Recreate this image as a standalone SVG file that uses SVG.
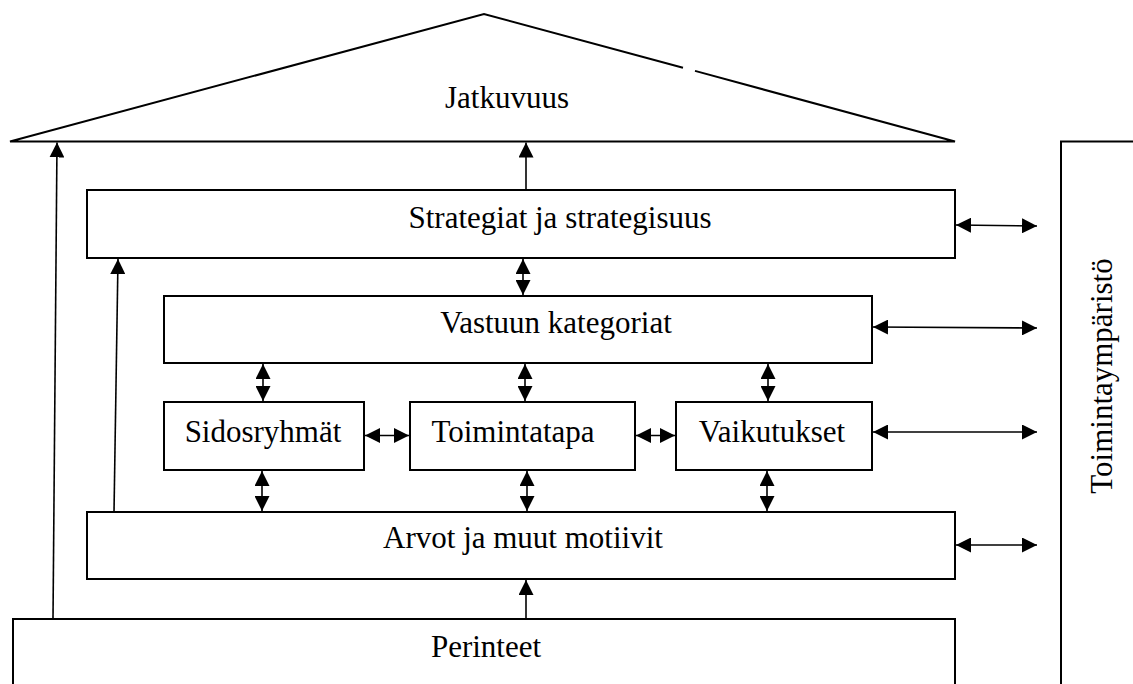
<svg xmlns="http://www.w3.org/2000/svg" width="1133" height="684" viewBox="0 0 1133 684">
  <style>
    .box { fill: #ffffff; stroke: #000000; stroke-width: 2; }
    .roof { fill: none; stroke: #000000; stroke-width: 2; stroke-linejoin: miter; }
    .lbl { font-family: "Liberation Serif", "Times New Roman", serif; font-size: 31px; fill: #000000; text-anchor: middle; }
    .link { fill: none; stroke: #000000; stroke-width: 1.6; }
    .one { marker-end: url(#head); }
    .two { marker-start: url(#head); marker-end: url(#head); }
  </style>
  <defs>
    <marker id="head" markerUnits="userSpaceOnUse" markerWidth="15" markerHeight="15" refX="15" refY="7.5" orient="auto-start-reverse">
      <path d="M0,0 L15,7.5 L0,15 Z" fill="#000000"/>
    </marker>
  </defs>
  <rect width="1133" height="684" fill="#ffffff"/>

  <!-- roof -->
  <g id="roof">
    <path class="roof" d="M683,67.7 L484,14 L10,141.5 L955,141.5 L695,70.9"/>
    <text class="lbl" x="507" y="108">Jatkuvuus</text>
  </g>

  <!-- operating environment column -->
  <g id="environment">
    <path class="box" d="M1061,690 L1061,141.5 L1140,141.5"/>
    <text class="lbl" transform="translate(1112,376) rotate(-90)">Toimintaympäristö</text>
  </g>

  <g id="strategies">
    <rect class="box" x="87" y="190" width="868" height="68"/>
    <text class="lbl" x="560" y="228">Strategiat ja strategisuus</text>
  </g>

  <g id="categories">
    <rect class="box" x="164" y="296" width="708" height="67"/>
    <text class="lbl" x="556" y="333">Vastuun kategoriat</text>
  </g>

  <g id="stakeholders">
    <rect class="box" x="164" y="402" width="200" height="68"/>
    <text class="lbl" x="263" y="442">Sidosryhmät</text>
  </g>

  <g id="practice">
    <rect class="box" x="410" y="402" width="225" height="68"/>
    <text class="lbl" x="513" y="442">Toimintatapa</text>
  </g>

  <g id="impacts">
    <rect class="box" x="676" y="402" width="196" height="68"/>
    <text class="lbl" x="772" y="442">Vaikutukset</text>
  </g>

  <g id="values">
    <rect class="box" x="87" y="512" width="868" height="67"/>
    <text class="lbl" x="523" y="548">Arvot ja muut motiivit</text>
  </g>

  <g id="traditions">
    <path class="box" d="M13,690 L13,619 L955,619 L955,690"/>
    <text class="lbl" x="486" y="657">Perinteet</text>
  </g>

  <!-- connectors -->
  <g id="connectors">
    <!-- single arrows upward -->
    <line class="link one" x1="53" y1="619" x2="57" y2="142.5"/>
    <line class="link one" x1="114" y1="512" x2="118" y2="259"/>
    <line class="link one" x1="526" y1="190" x2="526" y2="142.5"/>
    <line class="link one" x1="526" y1="619" x2="526" y2="580"/>

    <!-- vertical double arrows -->
    <line class="link two" x1="523" y1="259" x2="523" y2="295"/>
    <line class="link two" x1="263" y1="364" x2="263" y2="401"/>
    <line class="link two" x1="525" y1="364" x2="525" y2="401"/>
    <line class="link two" x1="768" y1="364" x2="768" y2="401"/>
    <line class="link two" x1="262" y1="471" x2="262" y2="511"/>
    <line class="link two" x1="527" y1="471" x2="527" y2="511"/>
    <line class="link two" x1="767" y1="471" x2="767" y2="511"/>

    <!-- horizontal double arrows within the middle row -->
    <line class="link two" x1="365" y1="435.5" x2="409" y2="435.5"/>
    <line class="link two" x1="636" y1="435.5" x2="675" y2="435.5"/>

    <!-- links to the operating environment -->
    <line class="link two" x1="956" y1="225" x2="1037" y2="226"/>
    <line class="link two" x1="873" y1="327" x2="1037" y2="328"/>
    <line class="link two" x1="873" y1="432" x2="1037" y2="432"/>
    <line class="link two" x1="956" y1="545" x2="1037" y2="545"/>
  </g>
</svg>
